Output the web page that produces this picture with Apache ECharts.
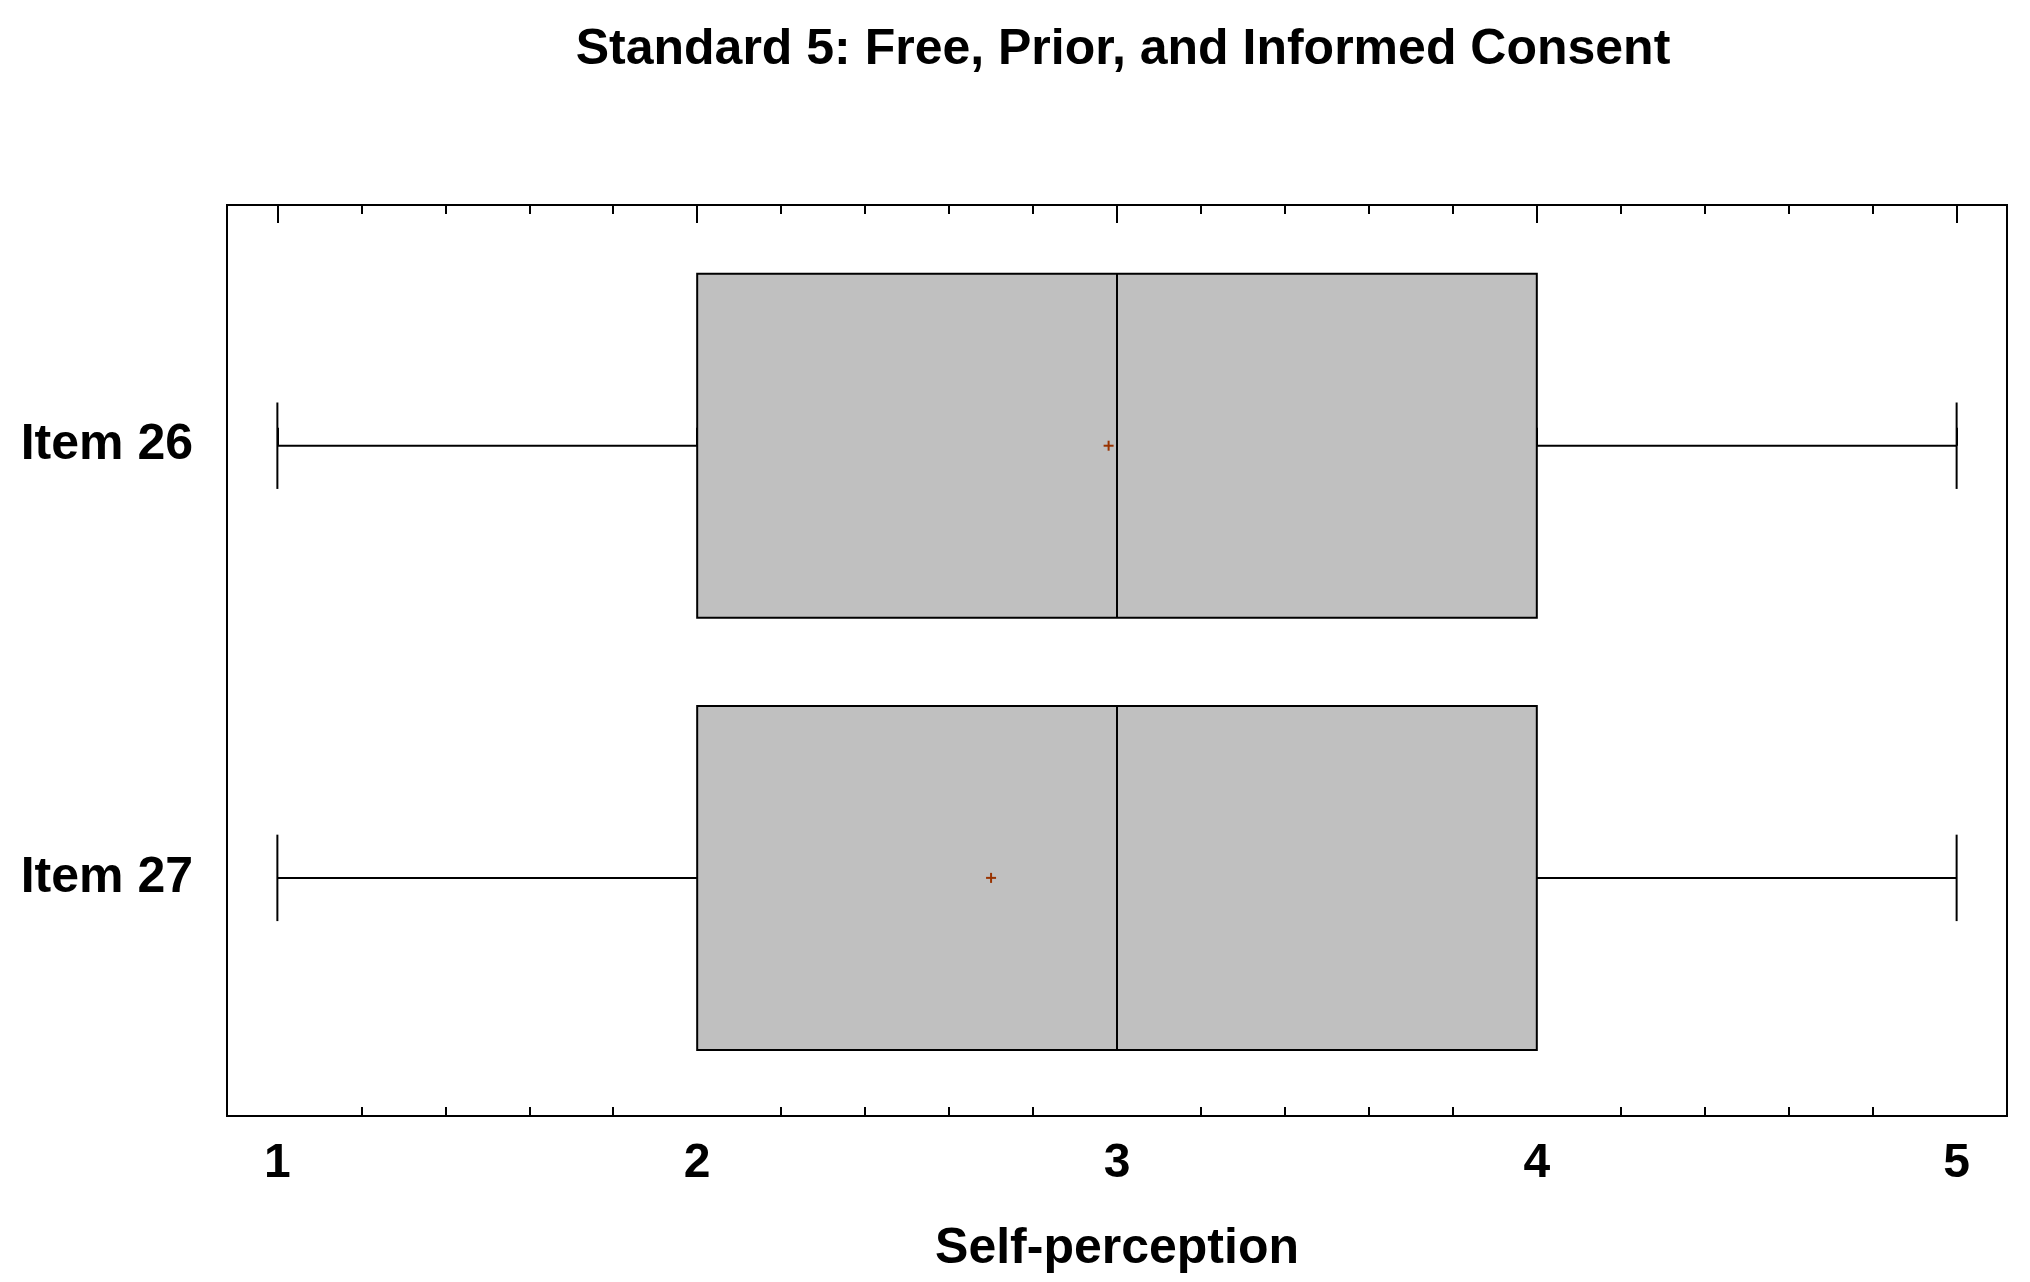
<!DOCTYPE html>
<html>
<head>
<meta charset="utf-8">
<script src="https://cdn.jsdelivr.net/npm/echarts@6/dist/echarts.min.js"></script>
<style>html,body{margin:0;padding:0;background:#fff}</style>
</head>
<body>
<div id="main" style="width:2030px;height:1282px"></div>
<script>
// box plot data
var categories = ['Item 26', 'Item 27'];
var mins = [1, 1];
var q1s = [2, 2];
var medians = [3, 3];
var q3s = [4, 4];
var maxs = [5, 5];
var means = [2.98, 2.70];
var majorTicks = [1, 2, 3, 4, 5];
var minorTicks = [];
for (var t = 10; t <= 50; t += 2) { if (t % 10) minorTicks.push(t / 10); }

var boxData = categories.map(function (c, i) {
    return [i, mins[i], q1s[i], medians[i], q3s[i], maxs[i]];
});
var meanData = categories.map(function (c, i) { return [i, means[i]]; });

var font = 'Liberation Sans, Arial, sans-serif';
var chart = echarts.init(document.getElementById('main'));

function renderBox(params, api) {
    var cat = api.value(0);
    var band = api.size([0, 1])[1];
    var h = band * 0.796;
    var cap = band * 0.2;
    var pMin = api.coord([api.value(1), cat]);
    var pQ1 = api.coord([api.value(2), cat]);
    var pMed = api.coord([api.value(3), cat]);
    var pQ3 = api.coord([api.value(4), cat]);
    var pMax = api.coord([api.value(5), cat]);
    var y = pMin[1];
    var ls = { stroke: '#000', lineWidth: 2 };
    return {
        type: 'group',
        children: [
            { type: 'line', shape: { x1: pMin[0], y1: y, x2: pQ1[0], y2: y }, style: ls },
            { type: 'line', shape: { x1: pQ3[0], y1: y, x2: pMax[0], y2: y }, style: ls },
            { type: 'line', shape: { x1: pMin[0], y1: y - cap / 2, x2: pMin[0], y2: y + cap / 2 }, style: ls },
            { type: 'line', shape: { x1: pMax[0], y1: y - cap / 2, x2: pMax[0], y2: y + cap / 2 }, style: ls },
            { type: 'rect', shape: { x: pQ1[0], y: y - h / 2, width: pQ3[0] - pQ1[0], height: h },
              style: { fill: '#c0c0c0', stroke: '#000', lineWidth: 2 } },
            { type: 'line', shape: { x1: pMed[0], y1: y - h / 2, x2: pMed[0], y2: y + h / 2 }, style: ls }
        ]
    };
}

function renderMean(params, api) {
    var p = api.coord([api.value(1), api.value(0)]);
    var s = 5;
    var ls = { stroke: '#993300', lineWidth: 2 };
    return {
        type: 'group',
        children: [
            { type: 'line', shape: { x1: p[0] - s, y1: p[1], x2: p[0] + s, y2: p[1] }, style: ls },
            { type: 'line', shape: { x1: p[0], y1: p[1] - s, x2: p[0], y2: p[1] + s }, style: ls }
        ]
    };
}

function xAxisDef(pos, ticks, len, labels) {
    var ax = {
        type: 'value', min: 0.88, max: 5.12, position: pos,
        splitLine: { show: false },
        axisLine: { show: false },
        axisTick: { show: true, inside: true, length: len, lineStyle: { color: '#000', width: 2 },
            customValues: ticks },
        axisLabel: { show: false }
    };
    if (labels) {
        ax.name = 'Self-perception';
        ax.nameLocation = 'middle';
        ax.nameGap = 108;
        ax.nameTextStyle = { fontFamily: font, fontSize: 50, fontWeight: 'bold', color: '#000' };
        ax.axisLabel = { show: true, customValues: majorTicks, margin: 24, fontFamily: font, fontSize: 48, fontWeight: 'bold', color: '#000' };
    }
    return ax;
}

var option = {
    backgroundColor: '#fff',
    animation: false,
    title: {
        text: 'Standard 5: Free, Prior, and Informed Consent',
        left: 1118, top: 20, textAlign: 'center',
        textStyle: { fontFamily: font, fontSize: 50, fontWeight: 'bold', color: '#000' }
    },
    grid: { left: 227, right: 23, top: 205, bottom: 166, show: true, borderColor: '#000', borderWidth: 2, backgroundColor: 'transparent' },
    xAxis: [
        xAxisDef('bottom', majorTicks, 18, true),
        xAxisDef('bottom', minorTicks, 9, false),
        xAxisDef('top', majorTicks, 18, false),
        xAxisDef('top', minorTicks, 9, false)
    ],
    yAxis: {
        type: 'value', min: -0.557, max: 1.551, inverse: true,
        splitLine: { show: false },
        axisLine: { show: false }, axisTick: { show: false },
        axisLabel: { customValues: [0, 1], formatter: function (v) { return categories[Math.round(v)]; },
            margin: 34, fontFamily: font, fontSize: 50, fontWeight: 'bold', color: '#000' }
    },
    series: [
        { type: 'custom', renderItem: renderBox, data: boxData, encode: { x: [1, 2, 3, 4, 5], y: 0 } },
        { type: 'custom', renderItem: renderMean, data: meanData, encode: { x: 1, y: 0 }, z: 5 }
    ]
};
chart.setOption(option);
</script>
</body>
</html>
